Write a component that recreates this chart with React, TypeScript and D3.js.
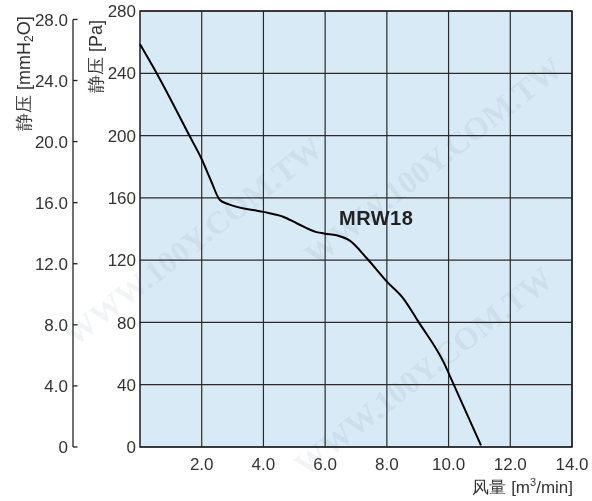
import React from "react";
import * as d3 from "d3";

const flow = [0, 0.54, 1.6, 2.0, 2.3, 2.59, 2.86, 4.0, 4.64, 5.08, 5.72, 6.0, 6.37, 6.8, 7.35, 8.0, 8.53, 9.02, 9.83, 10.15, 11.05];
const pressure = [258.6, 240, 200, 184.8, 171, 158.6, 156, 151, 147.9, 143.7, 138, 137, 136, 132.5, 121.2, 106.2, 95.5, 80.5, 54.8, 40.9, 1];
const xTicks = [2, 4, 6, 8, 10, 12, 14];
const paTicks = [0, 40, 80, 120, 160, 200, 240, 280];
const mmTicks = [0, 4, 8, 12, 16, 20, 24, 28];
const seriesName = "MRW18";
const watermark = "WWW.100Y.COM.TW";

const W = 592, H = 501;
const L = 140, R = 572, T = 11, B = 447;
const PA_PER_MM = 9.80665;

export default function App() {
  const x = d3.scaleLinear().domain([0, 14]).range([L, R]);
  const y = d3.scaleLinear().domain([0, 280]).range([B, T]);
  const yMm = d3.scaleLinear().domain([0, 280 / PA_PER_MM]).range([B, T]);
  const pts = flow.map((f, i) => [f, pressure[i]] as [number, number]);
  const line = d3.line<[number, number]>().x(d => x(d[0])).y(d => y(d[1])).curve(d3.curveMonotoneX);
  const font = "'Liberation Sans', Arial, sans-serif";
  const txt = "#333";
  const wm: [number, number][] = [[200, 250], [440, 170], [430, 380]];
  return (
    <svg width={W} height={H} style={{ position: "absolute", left: 0, top: 0 }} fontFamily={font}>
      <rect x={0} y={0} width={W} height={H} fill="#fff" />
      <rect x={L} y={T} width={R - L} height={B - T} fill="#d9eaf7" />
      {xTicks.map(t => (
        <line key={"gx" + t} x1={x(t)} x2={x(t)} y1={T} y2={B} stroke="#2b2b2b" strokeWidth={1.2} />
      ))}
      {paTicks.map(t => (
        <line key={"gy" + t} x1={L} x2={R} y1={y(t)} y2={y(t)} stroke="#2b2b2b" strokeWidth={1.2} />
      ))}
      <rect x={L} y={T} width={R - L} height={B - T} fill="none" stroke="#1e1e1e" strokeWidth={1.5} />
      <g opacity={0.06}>
        {wm.map(([cx, cy], i) => (
          <text key={"wm" + i} x={cx} y={cy} textAnchor="middle" fontFamily="'Liberation Serif', serif" fontWeight="bold" fontSize={32} fill="#1a3a5a" transform={`rotate(-38 ${cx} ${cy})`}>{watermark}</text>
        ))}
      </g>
      <path d={line(pts) || ""} fill="none" stroke="#000" strokeWidth={2} />
      <text x={339} y={225} fontSize={20} fontWeight="bold" fill="#222" letterSpacing={0.5}>{seriesName}</text>
      {paTicks.map(t => (
        <text key={"pl" + t} x={136} y={y(t)} dy="0.36em" textAnchor="end" fontSize={17} fill={txt}>{t}</text>
      ))}
      <line x1={73} x2={73} y1={yMm(28)} y2={B} stroke="#222" strokeWidth={1.3} />
      {mmTicks.map(t => (
        <g key={"mm" + t}>
          <line x1={73} x2={77.5} y1={yMm(t)} y2={yMm(t)} stroke="#222" strokeWidth={1.3} />
          <text x={68} y={yMm(t)} dy="0.36em" textAnchor="end" fontSize={17} fill={txt}>{t === 0 ? "0" : t.toFixed(1)}</text>
        </g>
      ))}
      {xTicks.map(t => (
        <text key={"xl" + t} x={x(t)} y={470} textAnchor="middle" fontSize={17} fill={txt}>{t.toFixed(1)}</text>
      ))}
      <text x={573} y={493} textAnchor="end" fontSize={17} fill={txt}>
        风量 [m<tspan fontSize={11} dy={-7}>3</tspan><tspan dy={7}>/min]</tspan>
      </text>
      <text transform="translate(30,131) rotate(-90)" fontSize={18} fill={txt}>
        静压 [mmH<tspan fontSize={12} dy={3}>2</tspan><tspan dy={-3}>O]</tspan>
      </text>
      <text transform="translate(102,93) rotate(-90)" fontSize={18} fill={txt}>静压 [Pa]</text>
    </svg>
  );
}
